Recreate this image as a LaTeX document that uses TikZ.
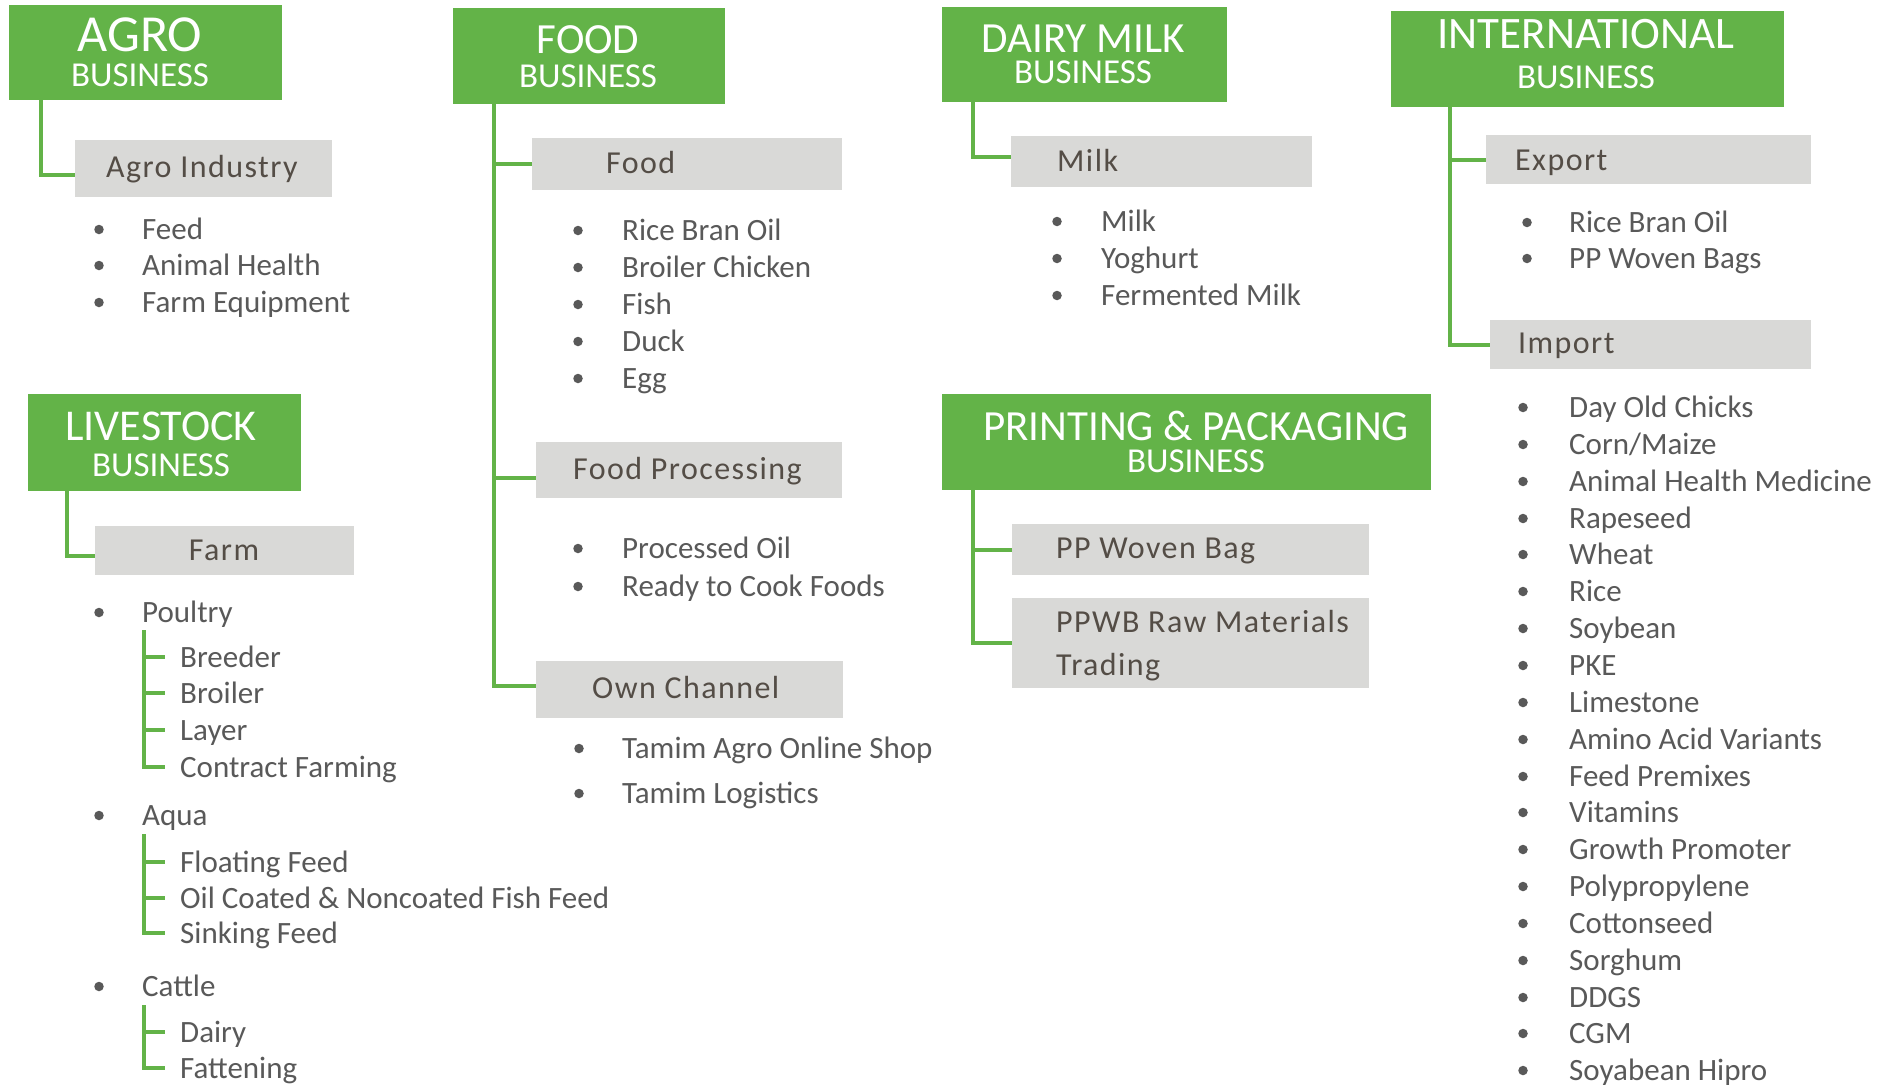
\documentclass[tikz,border=0pt]{standalone}
\usepackage{fontspec}
\setmainfont{Carlito}
\newfontfamily\boxfam[LetterSpace=4.5]{Carlito}
\definecolor{bizgreen}{RGB}{99,179,72}
\definecolor{boxgray}{RGB}{217,217,215}
\definecolor{boxtext}{RGB}{84,77,70}
\definecolor{listtext}{RGB}{89,89,89}
\newcommand{\listfont}{\fontsize{31}{37}\selectfont}
\newcommand{\boxfont}{\boxfam\fontsize{32}{43}\selectfont}
\newcommand{\hfnt}[1]{\fontsize{#1}{#1}\selectfont}
\tikzset{
    bizhead/.style = {fill=bizgreen, anchor=north west, inner sep=0pt},
    headtxt/.style = {text=white, inner sep=0pt, align=center,
        font=\fontsize{35}{#1}\selectfont},
    subbox/.style = {fill=boxgray, anchor=north west, inner sep=0pt},
    subtxt/.style = {text=boxtext, font=\boxfont, anchor=base west, inner sep=0pt},
    dot/.style = {circle, fill=listtext, inner sep=0pt, minimum size=9.5pt},
    itemtxt/.style = {text=listtext, font=\listfont, anchor=base west, inner sep=0pt},
    subitem/.style = {itemtxt, inner xsep=15pt, text height=20pt, text depth=0pt},
    link/.style = {draw=bizgreen, line width=4.3pt},
    twig/.style = {draw=bizgreen, line width=3.3pt}
}
% bullet item: name, bullet x, text x, baseline, text
\newcommand{\bitem}[5]{%
    \node[dot] (#1d) at (#2,#4-9.5) {};
    \node[itemtxt] (#1) at (#3,#4) {#5};}
\begin{document}
\begin{tikzpicture}[x=1pt, y=-1pt]
    \path[fill=white, use as bounding box] (0,0) rectangle (1886,1087);

    % headers
    \node[bizhead, minimum width=273pt, minimum height=95pt] (agro) at (9,5) {};
    \node[headtxt=35] (agroT) at (140,52.5) {{\hfnt{52}AGRO}\\BUSINESS};

    \node[bizhead, minimum width=272pt, minimum height=96pt] (food) at (453,8) {};
    \node[headtxt=34] (foodT) at (588,57) {{\hfnt{43}FOOD}\\BUSINESS};

    \node[bizhead, minimum width=285pt, minimum height=95pt] (dairy) at (942,7) {};
    \node[headtxt=31] (dairyT) at (1083,54) {{\hfnt{43}DAIRY MILK}\\BUSINESS};

    \node[bizhead, minimum width=393pt, minimum height=96pt] (intl) at (1391,11) {};
    \node[headtxt=40] (intlT) at (1586,54.5) {{\hfnt{45}INTERNATIONAL}\\BUSINESS};

    \node[bizhead, minimum width=273pt, minimum height=97pt] (live) at (28,394) {};
    \node[headtxt=36] (liveT) at (161,444) {{\hfnt{44}LIVESTOCK}\\BUSINESS};

    \node[bizhead, minimum width=489pt, minimum height=96pt] (print) at (942,394) {};
    \node[headtxt=32] (printT) at (1196,441.5) {{\hfnt{43}PRINTING \& PACKAGING}\\BUSINESS};

    % grey boxes
    \node[subbox, minimum width=257pt, minimum height=57pt] (agroind) at (75,140) {};
    \node[subtxt] (agroindT) at (106,177) {Agro Industry};
    \node[subbox, minimum width=310pt, minimum height=52pt] (foodbox) at (532,138) {};
    \node[subtxt] (foodboxT) at (606,173) {Food};
    \node[subbox, minimum width=306pt, minimum height=56pt] (fproc) at (536,442) {};
    \node[subtxt] (fprocT) at (573,479) {Food Processing};
    \node[subbox, minimum width=307pt, minimum height=57pt] (own) at (536,661) {};
    \node[subtxt] (ownT) at (592,698) {Own Channel};
    \node[subbox, minimum width=301pt, minimum height=51pt] (milkbox) at (1011,136) {};
    \node[subtxt] (milkboxT) at (1057,171) {Milk};
    \node[subbox, minimum width=325pt, minimum height=49pt] (export) at (1486,135) {};
    \node[subtxt] (exportT) at (1515,170) {Export};
    \node[subbox, minimum width=321pt, minimum height=49pt] (import) at (1490,320) {};
    \node[subtxt] (importT) at (1518,353) {Import};
    \node[subbox, minimum width=259pt, minimum height=49pt] (farm) at (95,526) {};
    \node[subtxt, anchor=base] (farmT) at (224,560) {Farm};
    \node[subbox, minimum width=357pt, minimum height=51pt] (ppwb) at (1012,524) {};
    \node[subtxt] (ppwbT) at (1056,558) {PP Woven Bag};
    \node[subbox, minimum width=357pt, minimum height=90pt] (raw) at (1012,598) {};
    \node[subtxt, anchor=west, align=left] (rawT) at (1056,646) {PPWB Raw Materials\\Trading};

    % connectors
    \draw[link] (agro.south -| 41,0) |- ([yshift=-6pt]agroind.west);
    \draw[link] (food.south -| 494,0) |- ([yshift=4pt]own.west);
    \draw[link] (foodbox.west -| 494,0) -- (foodbox.west);
    \draw[link] ([yshift=-8pt]fproc.west -| 494,0) -- ([yshift=-8pt]fproc.west);
    \draw[link] (dairy.south -| 973,0) |- ([yshift=5pt]milkbox.west);
    \draw[link] (intl.south -| 1450,0) |- (import.west);
    \draw[link] (export.west -| 1450,0) -- (export.west);
    \draw[link] (live.south -| 67,0) |- ([yshift=-5pt]farm.west);
    \draw[link] (print.south -| 973,0) |- (raw.west);
    \draw[link] (ppwb.west -| 973,0) -- (ppwb.west);

    % agro items
    \bitem{feed}{99}{142}{239}{Feed}
    \bitem{ahealth}{99}{142}{275}{Animal Health}
    \bitem{fequip}{99}{142}{312}{Farm Equipment}

    % food items
    \bitem{rbo}{578}{622}{240}{Rice Bran Oil}
    \bitem{bchick}{578}{622}{277}{Broiler Chicken}
    \bitem{fish}{578}{622}{314}{Fish}
    \bitem{duck}{578}{622}{351}{Duck}
    \bitem{egg}{578}{622}{388}{Egg}
    \bitem{poil}{578}{622}{558}{Processed Oil}
    \bitem{rcook}{578}{622}{596}{Ready to Cook Foods}
    \bitem{shop}{579}{622}{758}{Tamim Agro Online Shop}
    \bitem{logi}{579}{622}{803}{Tamim Logistics}

    % dairy items
    \bitem{milk}{1057}{1101}{231}{Milk}
    \bitem{yog}{1057}{1101}{268}{Yoghurt}
    \bitem{fmilk}{1057}{1101}{305}{Fermented Milk}

    % export items
    \bitem{exrbo}{1527}{1569}{232}{Rice Bran Oil}
    \bitem{exbags}{1527}{1569}{268}{PP Woven Bags}

    % import items
    \bitem{imp1}{1523}{1569}{417}{Day Old Chicks}
    \bitem{imp2}{1523}{1569}{454}{Corn/Maize}
    \bitem{imp3}{1523}{1569}{491}{Animal Health Medicine}
    \bitem{imp4}{1523}{1569}{528}{Rapeseed}
    \bitem{imp5}{1523}{1569}{564}{Wheat}
    \bitem{imp6}{1523}{1569}{601}{Rice}
    \bitem{imp7}{1523}{1569}{638}{Soybean}
    \bitem{imp8}{1523}{1569}{675}{PKE}
    \bitem{imp9}{1523}{1569}{712}{Limestone}
    \bitem{imp10}{1523}{1569}{749}{Amino Acid Variants}
    \bitem{imp11}{1523}{1569}{786}{Feed Premixes}
    \bitem{imp12}{1523}{1569}{822}{Vitamins}
    \bitem{imp13}{1523}{1569}{859}{Growth Promoter}
    \bitem{imp14}{1523}{1569}{896}{Polypropylene}
    \bitem{imp15}{1523}{1569}{933}{Cottonseed}
    \bitem{imp16}{1523}{1569}{970}{Sorghum}
    \bitem{imp17}{1523}{1569}{1007}{DDGS}
    \bitem{imp18}{1523}{1569}{1043}{CGM}
    \bitem{imp19}{1523}{1569}{1080}{Soyabean Hipro}

    % livestock items
    \bitem{poultry}{99}{142}{622}{Poultry}
    \bitem{aqua}{99}{142}{825}{Aqua}
    \bitem{cattle}{99}{142}{996}{Cattle}

    \node[subitem] (breeder) at (165,667) {Breeder};
    \node[subitem] (broiler) at (165,703) {Broiler};
    \node[subitem] (layer) at (165,740) {Layer};
    \node[subitem] (contract) at (165,777) {Contract Farming};
    \node[subitem] (floating) at (165,872) {Floating Feed};
    \node[subitem] (coated) at (165,908) {Oil Coated \& Noncoated Fish Feed};
    \node[subitem] (sinking) at (165,943) {Sinking Feed};
    \node[subitem] (dairy2) at (165,1042) {Dairy};
    \node[subitem] (fatten) at (165,1078) {Fattening};

    \coordinate (poultryTop) at (144,630);
    \coordinate (aquaTop) at (144,834);
    \coordinate (cattleTop) at (144,1005);
    \draw[twig] (poultryTop) |- (contract.west);
    \draw[twig] (poultryTop |- breeder.west) -- (breeder.west);
    \draw[twig] (poultryTop |- broiler.west) -- (broiler.west);
    \draw[twig] (poultryTop |- layer.west) -- (layer.west);
    \draw[twig] (aquaTop) |- (sinking.west);
    \draw[twig] (aquaTop |- floating.west) -- (floating.west);
    \draw[twig] (aquaTop |- coated.west) -- (coated.west);
    \draw[twig] (cattleTop) |- (fatten.west);
    \draw[twig] (cattleTop |- dairy2.west) -- (dairy2.west);
\end{tikzpicture}
\end{document}
